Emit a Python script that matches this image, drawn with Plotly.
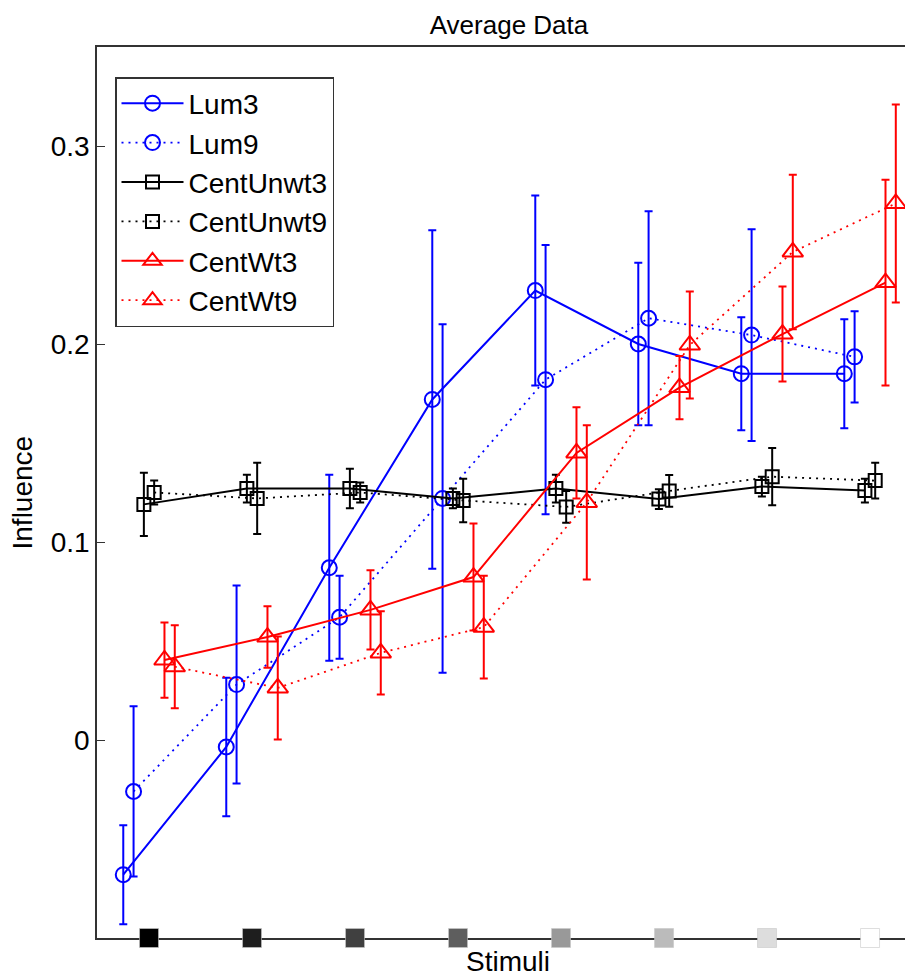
import plotly.graph_objects as go

# ---------------- data ----------------
stimuli = [1, 2, 3, 4, 5, 6, 7, 8]
stim_gray = [0, 30, 64, 94, 153, 187, 221, 255]

series_names = ["Lum3", "Lum9", "CentUnwt3", "CentUnwt9", "CentWt3", "CentWt9"]

lum3 = [-0.068, -0.0035, 0.087, 0.172, 0.227, 0.200, 0.185, 0.185]
lum3_err = [0.025, 0.035, 0.047, 0.0855, 0.048, 0.041, 0.0285, 0.0275]
lum9 = [-0.026, 0.028, 0.062, 0.122, 0.182, 0.213, 0.2045, 0.1935]
lum9_err = [0.043, 0.050, 0.021, 0.088, 0.068, 0.054, 0.0535, 0.023]
centunwt3 = [0.119, 0.127, 0.127, 0.122, 0.127, 0.1217, 0.128, 0.126]
centunwt3_err = [0.016, 0.007, 0.010, 0.005, 0.007, 0.005, 0.005, 0.006]
centunwt9 = [0.125, 0.122, 0.125, 0.121, 0.1177, 0.1258, 0.133, 0.131]
centunwt9_err = [0.006, 0.018, 0.005, 0.011, 0.008, 0.008, 0.0145, 0.009]
centwt3 = [0.0404, 0.052, 0.0657, 0.0823, 0.145, 0.178, 0.205, 0.231]
centwt3_err = [0.019, 0.0155, 0.020, 0.027, 0.023, 0.016, 0.024, 0.052]
centwt9 = [0.037, 0.0263, 0.044, 0.057, 0.120, 0.1995, 0.2465, 0.271]
centwt9_err = [0.021, 0.026, 0.021, 0.026, 0.039, 0.027, 0.039, 0.050]

y_ticks = [0, 0.1, 0.2, 0.3]
y_range = [-0.1, 0.35]
x_range = [0.495, 8.417]

# ---------------- styles ----------------
values = [lum3, lum9, centunwt3, centunwt9, centwt3, centwt9]
errors = [lum3_err, lum9_err, centunwt3_err, centunwt9_err, centwt3_err, centwt9_err]
offsets = [-0.25, -0.15, -0.05, 0.05, 0.15, 0.25]
colors = ["#0000ff", "#0000ff", "#000000", "#000000", "#ff0000", "#ff0000"]
symbols = ["circle-open", "circle-open", "square-open", "square-open",
           "triangle-up-open", "triangle-up-open"]
msizes = [15, 15, 13, 13, 18, 18]
dashes = ["solid", "2px,5px", "solid", "2px,5px", "solid", "2px,5px"]
lwidths = [2, 1.8, 2, 1.8, 2, 1.8]

FONT = "Liberation Sans, Arial, Helvetica, sans-serif"

# page body has an 8px margin; lay out in page pixels minus that offset
OFF = 8
W, H = 913 - OFF, 978 - OFF
L, T, B = 97 - OFF, 47 - OFF, 40
PW, PH = W - L, H - T - B

fig = go.Figure()

for name, v, e, off, c, s, ms, d, lw in zip(series_names, values, errors, offsets,
                                             colors, symbols, msizes, dashes, lwidths):
    fig.add_trace(go.Scatter(
        x=[xi + off for xi in stimuli], y=v, name=name,
        mode="lines+markers",
        line=dict(color=c, width=lw, dash=d),
        marker=dict(symbol=s, size=ms, color=c, line=dict(color=c, width=2)),
        error_y=dict(type="data", array=e, visible=True, color=c, thickness=2, width=4),
    ))

# stimulus swatches along the x axis
fig.add_trace(go.Scatter(
    x=stimuli, y=[y_range[0]] * len(stimuli), mode="markers", showlegend=False,
    cliponaxis=False, hoverinfo="skip",
    marker=dict(symbol="square", size=19,
                color=[f"rgb({g},{g},{g})" for g in stim_gray],
                line=dict(color="rgba(200,200,200,0.6)", width=1)),
))

fig.update_layout(
    width=W, height=H,
    margin=dict(l=L, r=0, t=T, b=B),
    paper_bgcolor="white", plot_bgcolor="white",
    font=dict(family=FONT, size=28, color="black"),
    title=dict(text="Average Data", x=(L + PW / 2 + 4) / W, xanchor="center",
               y=1 - 8 / H, yanchor="top", yref="container", pad=dict(t=0, b=0),
               font=dict(size=26, family=FONT)),
    showlegend=True,
    legend=dict(x=(115 - 97) / PW, y=(938 - 77) / PH, xanchor="left", yanchor="top",
                bgcolor="white", bordercolor="#333333", borderwidth=1.5,
                font=dict(size=28, family=FONT), itemwidth=62,
                tracegroupgap=0),
    xaxis=dict(range=x_range, showgrid=False, zeroline=False, showticklabels=False,
               ticks="", showline=True, linecolor="#333333", linewidth=1.5,
               mirror=True, layer="below traces"),
    yaxis=dict(range=y_range, showgrid=False, zeroline=False, tickvals=y_ticks,
               ticks="inside", ticklen=8, tickcolor="#333333", showline=True,
               linecolor="#333333", linewidth=1.5, tickfont=dict(size=28, family=FONT)),
    annotations=[
        dict(text="Influence", x=(22 - 97) / PW, xref="paper", y=0.5, yref="paper",
             textangle=-90, showarrow=False, font=dict(size=28, family=FONT),
             xanchor="center", yanchor="middle"),
        dict(text="Stimuli", x=(508 - 97) / PW, xref="paper", y=-(961 - 938) / PH,
             yref="paper", showarrow=False, font=dict(size=28, family=FONT),
             xanchor="center", yanchor="middle"),
    ],
)

fig.write_html("out.html")
